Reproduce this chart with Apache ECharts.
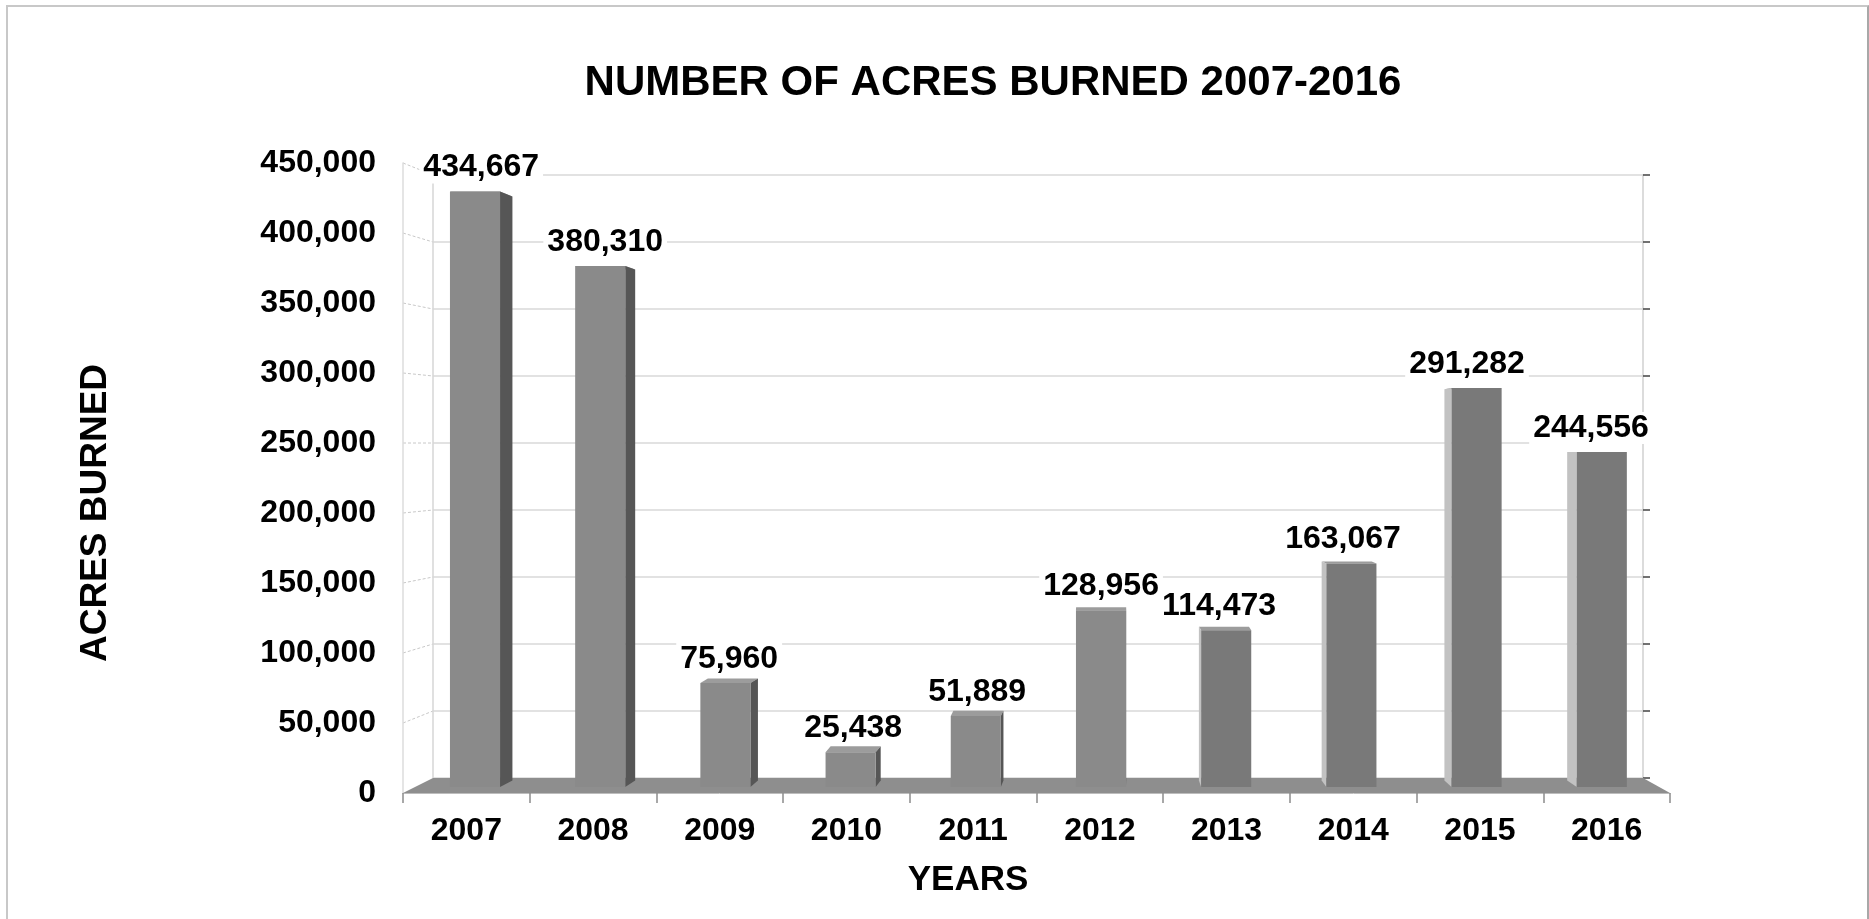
<!DOCTYPE html>
<html>
<head>
<meta charset="utf-8">
<script src="https://cdn.jsdelivr.net/npm/echarts@6/dist/echarts.min.js"></script>
<style>
html,body{margin:0;padding:0;background:#fff;}
#chart{position:absolute;left:0;top:0;width:1869px;height:919px;}
#frame{position:absolute;left:6px;top:5px;width:1863px;height:940px;box-sizing:border-box;
  border-left:2px solid #c8c8c8;border-top:2px solid #c8c8c8;border-right:2px solid #a8a8a8;pointer-events:none;}
</style>
</head>
<body>
<div id="chart"></div>
<div id="frame"></div>
<script>
// ---- data ----
var years = ['2007','2008','2009','2010','2011','2012','2013','2014','2015','2016'];
var acres = [434667, 380310, 75960, 25438, 51889, 128956, 114473, 163067, 291282, 244556];
var yMin = 0, yMax = 450000, yStep = 50000;
var chartTitle = 'NUMBER OF ACRES BURNED 2007-2016';
var yTitle = 'ACRES BURNED';
var xTitle = 'YEARS';

// ---- layout ----
var FONT = "'Liberation Sans', Arial, sans-serif";
var W = 1869, H = 919;
var BACK  = {left:433,   right:1643,   top:175,   bottom:778};
var BARS  = {left:412.4, right:1664.4, top:170.5, bottom:787};
var FRONT = {left:403,   right:1670,   top:163,   bottom:793};
var VX = 1110, VY = 450, K = 0.0195;

function gridOf(r){ return {left:r.left, top:r.top, width:r.right-r.left, height:r.bottom-r.top, containLabel:false}; }
function fmt(v){ return Number(v).toLocaleString('en-US'); }

var chart = echarts.init(document.getElementById('chart'), null, {renderer:'canvas', width:W, height:H});

function renderBar(params, api){
  var i = api.value(0), v = api.value(1);
  var t = api.coord([i, v]), b = api.coord([i, 0]);
  var bw = api.size([1, 0])[0] * 0.4;
  var cx = t[0], x0 = cx - bw/2, x1 = cx + bw/2;
  var dx = (VX - cx) * K, dyT = (VY - t[1]) * K, dyB = (VY - b[1]) * K;
  var rightSide = dx >= 0;
  var frontColor = rightSide ? '#8a8a8a' : '#797979';
  var sideColor  = rightSide ? '#565656' : '#c2c2c2';
  var ex = rightSide ? x1 : x0;
  return {
    type:'group',
    children:[
      {type:'polygon', shape:{points:[[x0,t[1]],[x1,t[1]],[x1+dx,t[1]+dyT],[x0+dx,t[1]+dyT]]}, style:{fill:'#9c9c9c'}},
      {type:'polygon', shape:{points:[[ex,t[1]],[ex+dx,t[1]+dyT],[ex+dx,b[1]+dyB],[ex,b[1]]]}, style:{fill:sideColor}},
      {type:'rect', shape:{x:x0, y:t[1], width:bw, height:b[1]-t[1]}, style:{fill:frontColor}},
      {type:'text', style:{text:fmt(v), x:cx + dx/2 - (rightSide ? 0 : 6), y:t[1] - 8, align:'center', verticalAlign:'bottom',
        fontSize:32, fontWeight:'bold', fontFamily:FONT, fill:'#000', backgroundColor:'#fff', padding:[0,4]}}
    ]
  };
}

var option = {
  backgroundColor:'transparent',
  animation:false,
  grid:[gridOf(BACK), gridOf(BARS), gridOf(FRONT)],
  xAxis:[
    {gridIndex:0, type:'category', data:years, show:false},
    {gridIndex:1, type:'category', data:years, show:false},
    {gridIndex:2, type:'category', data:years,
      axisLine:{show:true, lineStyle:{color:'#bdbdbd', width:1}},
      axisTick:{show:true, length:10, lineStyle:{color:'#8c8c8c', width:1.5}},
      axisLabel:{fontSize:32, fontWeight:'bold', color:'#000', fontFamily:FONT, margin:22},
      splitLine:{show:false}}
  ],
  yAxis:[
    {gridIndex:0, type:'value', min:yMin, max:yMax, interval:yStep,
      axisLine:{show:true, lineStyle:{color:'#d6d6d6', width:1.5}},
      axisTick:{show:false}, axisLabel:{show:false},
      splitLine:{show:true, lineStyle:{color:'#d9d9d9', width:1.5}}},
    {gridIndex:0, type:'value', position:'right', min:yMin, max:yMax, interval:yStep,
      axisLine:{show:true, lineStyle:{color:'#d0d0d0', width:1.5}},
      axisTick:{show:true, length:7, lineStyle:{color:'#444', width:1.5}},
      axisLabel:{show:false}, splitLine:{show:false}},
    {gridIndex:1, type:'value', min:yMin, max:yMax, interval:yStep, show:false},
    {gridIndex:2, type:'value', min:yMin, max:yMax, interval:yStep,
      axisLine:{show:true, lineStyle:{color:'#dcdcdc', width:1.5}},
      axisTick:{show:false},
      axisLabel:{fontSize:32, fontWeight:'bold', color:'#000', fontFamily:FONT, margin:27, formatter:function(v){return fmt(v);}},
      splitLine:{show:false}}
  ],
  series:[
    {type:'custom', xAxisIndex:1, yAxisIndex:2, z:3, encode:{x:0, y:1},
      data:acres.map(function(v,i){return [i, v];}),
      renderItem:renderBar}
  ]
};
chart.setOption(option);

// decorations computed from the axes
var graphics = [];
graphics.push({type:'polygon', z:1, shape:{points:[[FRONT.left,FRONT.bottom],[FRONT.right,FRONT.bottom],[BACK.right,BACK.bottom],[BACK.left,BACK.bottom]]},
  style:{fill:'#8e8e8e'}});
for (var v = yMin; v <= yMax; v += yStep){
  var fy = chart.convertToPixel({yAxisIndex:3}, v);
  var by = chart.convertToPixel({yAxisIndex:0}, v);
  if (v > yMin) graphics.push({type:'line', z:0, shape:{x1:FRONT.left, y1:fy, x2:BACK.left, y2:by},
    style:{stroke:'#c8c8c8', lineWidth:1, lineDash:[3,2]}});
}
graphics.push({type:'text', x:993, y:83, style:{text:chartTitle, align:'center', verticalAlign:'middle',
  fontSize:42, fontWeight:'bold', fontFamily:FONT, fill:'#000'}});
graphics.push({type:'text', x:96, y:513, rotation:Math.PI/2, style:{text:yTitle, align:'center', verticalAlign:'middle',
  fontSize:37, fontWeight:'bold', fontFamily:FONT, fill:'#000'}});
graphics.push({type:'text', x:968, y:880, style:{text:xTitle, align:'center', verticalAlign:'middle',
  fontSize:35, fontWeight:'bold', fontFamily:FONT, fill:'#000'}});
chart.setOption({graphic:graphics});
</script>
</body>
</html>
